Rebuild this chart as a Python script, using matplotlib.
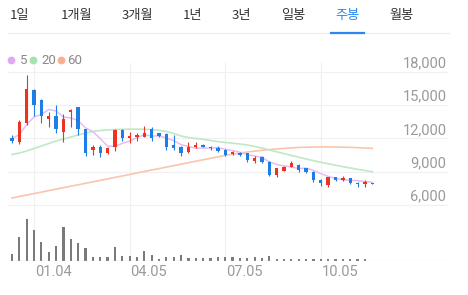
import numpy as np
import matplotlib
matplotlib.use('Agg')
import matplotlib.pyplot as plt
from matplotlib.lines import Line2D

W, H = 468, 295

# top tabs
tabs = ['1일', '1개월', '3개월', '1년', '3년', '일봉', '주봉', '월봉']
tab_x = [20, 77, 137, 193, 241, 293, 347, 402]
active_tab = '주봉'

# weekly candles (won)
opens = [12050, 11700, 13400, 16400, 15500, 13750, 14050, 12600, 14350, 14800,
         12850, 10950, 11200, 10700, 11200, 12750, 12050, 12100, 12150, 12900,
         12450, 12400, 11400, 11250, 10800, 11250, 11450, 11250, 11100, 11000,
         10600, 10700, 10650, 9950, 10350, 9900, 8750, 9100, 9450, 9600,
         9300, 9000, 8300, 7800, 8500, 8260, 8400, 8000, 7900, 8000]
highs = [12300, 13650, 17750, 16450, 15600, 14400, 15000, 14250, 14700, 14850,
         12900, 11400, 11400, 11250, 12900, 12850, 12600, 12450, 13100, 13000,
         12500, 12450, 12300, 11300, 11700, 11650, 11500, 11300, 11300, 11050,
         10850, 10750, 10700, 10400, 10400, 9950, 9350, 9500, 10000, 9700,
         9350, 9050, 8350, 8550, 8550, 8600, 8450, 8050, 8250, 8020]
lows = [11600, 11500, 13200, 14000, 13400, 13050, 12500, 11700, 13050, 12300,
        10400, 10500, 10350, 10600, 10900, 11800, 11550, 11800, 12100, 11800,
        12100, 11000, 11000, 10400, 10650, 11100, 11200, 10950, 10750, 10450,
        10550, 10450, 9900, 9750, 9750, 8650, 8550, 9050, 9400, 9000,
        8900, 8050, 7700, 7650, 8200, 8150, 7900, 7600, 7650, 7850]
closes = [11800, 13500, 16500, 15000, 14000, 14050, 12850, 13800, 14550, 12850,
          10700, 11200, 10700, 11100, 12750, 12050, 12200, 12300, 12450, 12050,
          12220, 11200, 11100, 10650, 11250, 11400, 11250, 11100, 10900, 10500,
          10800, 10500, 10050, 10250, 9900, 8750, 9300, 9450, 9750, 9150,
          9000, 8250, 8000, 8500, 8250, 8400, 7950, 7900, 8100, 7900]

# weekly volume (thousand shares)
volume = [670, 2400, 4200, 3100, 1870, 930, 1470, 3430, 2170, 1830,
          1270, 430, 430, 430, 1430, 530, 530, 400, 1000, 600,
          200, 430, 430, 600, 330, 270, 270, 270, 370, 370,
          370, 330, 330, 370, 270, 530, 200, 170, 170, 170,
          170, 200, 200, 200, 170, 170, 200, 200, 200, 0]

# moving averages
ma5 = [12000, 12350, 13250, 13950, 14160, 14610, 14480, 13940, 13850, 13620,
       12950, 12620, 12000, 11310, 11290, 11560, 11760, 12080, 12350, 12210,
       12240, 12040, 11800, 11440, 11280, 11120, 11130, 11130, 11180, 11030,
       10910, 10760, 10550, 10420, 10300, 9890, 9650, 9530, 9430, 9280,
       9330, 9120, 8830, 8580, 8400, 8280, 8220, 8200, 8120, 8050]
ma20 = [10550, 10690, 10870, 11100, 11320, 11550, 11770, 11950, 12130, 12310,
        12490, 12630, 12720, 12770, 12810, 12830, 12840, 12840, 12830, 12810,
        12740, 12630, 12450, 12220, 12090, 12000, 11930, 11820, 11710, 11640,
        11570, 11500, 11410, 11280, 11140, 10960, 10800, 10640, 10470, 10310,
        10150, 10000, 9850, 9720, 9590, 9460, 9340, 9220, 9110, 9000]
ma60 = [6630, 6770, 6900, 7030, 7160, 7300, 7430, 7560, 7700, 7820,
        7960, 8090, 8220, 8350, 8490, 8620, 8750, 8890, 9020, 9160,
        9280, 9420, 9550, 9680, 9820, 9950, 10080, 10210, 10340, 10470,
        10580, 10690, 10780, 10860, 10930, 11000, 11050, 11110, 11150, 11190,
        11210, 11230, 11240, 11240, 11230, 11210, 11200, 11170, 11140, 11110]

month_ticks = [3, 16, 29, 42]
month_labels = ['01.04', '04.05', '07.05', '10.05']
price_ticks = [6000, 9000, 12000, 15000, 18000]

UP = '#ec3320'
DOWN = '#1f7de6'
GRID = '#f1f1f1'
TEXT_GRAY = '#9a9a9a'
MA_COLORS = {'5': '#ddaaf2', '20': '#a6e2b0', '60': '#f8b08e'}
MA_LINES = {'5': '#e4bdf5', '20': '#bfe9c5', '60': '#f9c6ac'}

plt.rcParams['font.family'] = ['Roboto', 'DejaVu Sans']

fig = plt.figure(figsize=(W / 100, H / 100), dpi=100)
fig.patch.set_facecolor('white')

# price axes, volume shares it through twinx
ax = fig.add_axes([8 / W, 1 - 261 / H, 440 / W, 206 / H])
ax.set_xlim(-0.54, 59.3)
ax.set_ylim(949, 19530)
ax.axis('off')

x = np.arange(len(closes))

for v in price_ticks:
    ax.axhline(v, color=GRID, lw=0.9, zorder=0)
    ax.annotate(f'{v:,}', xy=(1, v), xycoords=('axes fraction', 'data'),
                xytext=(-1.2, 3.2), textcoords='offset points',
                ha='right', va='baseline', fontsize=10.5, color=TEXT_GRAY)
for t, lab in zip(month_ticks, month_labels):
    ax.axvline(t, ymin=0, ymax=0.96, color=GRID, lw=0.9, zorder=0)
    ax.annotate(lab, xy=(t, 0), xycoords=('data', 'axes fraction'),
                xytext=(0.5, -8), textcoords='offset points',
                ha='left', va='center', fontsize=10.5, color=TEXT_GRAY)

# moving averages
ax.plot(x, ma60, color=MA_LINES['60'], lw=1.2, zorder=2)
ax.plot(x, ma20, color=MA_LINES['20'], lw=1.2, zorder=2)
ax.plot(x, ma5, color=MA_LINES['5'], lw=1.1, zorder=2)

# candles
o = np.array(opens)
c = np.array(closes)
colors = [UP if cc > oo else DOWN for oo, cc in zip(o, c)]
ax.vlines(x, lows, highs, colors=colors, lw=0.8, zorder=3)
body = np.maximum(np.abs(c - o), 60)
ax.bar(x, body, bottom=np.minimum(o, c), width=0.45, color=colors, zorder=4)

# volume
axv = ax.twinx()
axv.set_ylim(0, max(volume) * 206 / 42)
axv.axis('off')
axv.bar(x, volume, width=0.3, color='#7a7a7a')
axv.axhline(0, xmin=0.005, color='#e8e8e8', lw=0.9)

# legend of moving averages
for name, dot_x, txt_x in [('5', 10.7, 19.5), ('20', 33.3, 41.5), ('60', 60.7, 67.5)]:
    fig.add_artist(Line2D([dot_x / W], [1 - 60 / H], marker='o', ms=4.6,
                          color=MA_COLORS[name], ls='none'))
    fig.text(txt_x / W, 1 - 60 / H, name, ha='left', va='center',
             fontsize=9.5, color='#888888')

# tab bar
for label, cx in zip(tabs, tab_x):
    fig.text(cx / W, 1 - 15 / H, label, ha='center', va='center', fontsize=9.5,
             family=['Noto Sans CJK KR', 'DejaVu Sans'],
             color='#2a86f2' if label == active_tab else '#333333')
fig.add_artist(Line2D([8 / W, 449 / W], [1 - 33 / H] * 2, color='#eeeeee', lw=0.9))
fig.add_artist(Line2D([331 / W, 364 / W], [1 - 33 / H] * 2, color='#2a86f2', lw=1.6))

fig.savefig('out.png', dpi=100)
